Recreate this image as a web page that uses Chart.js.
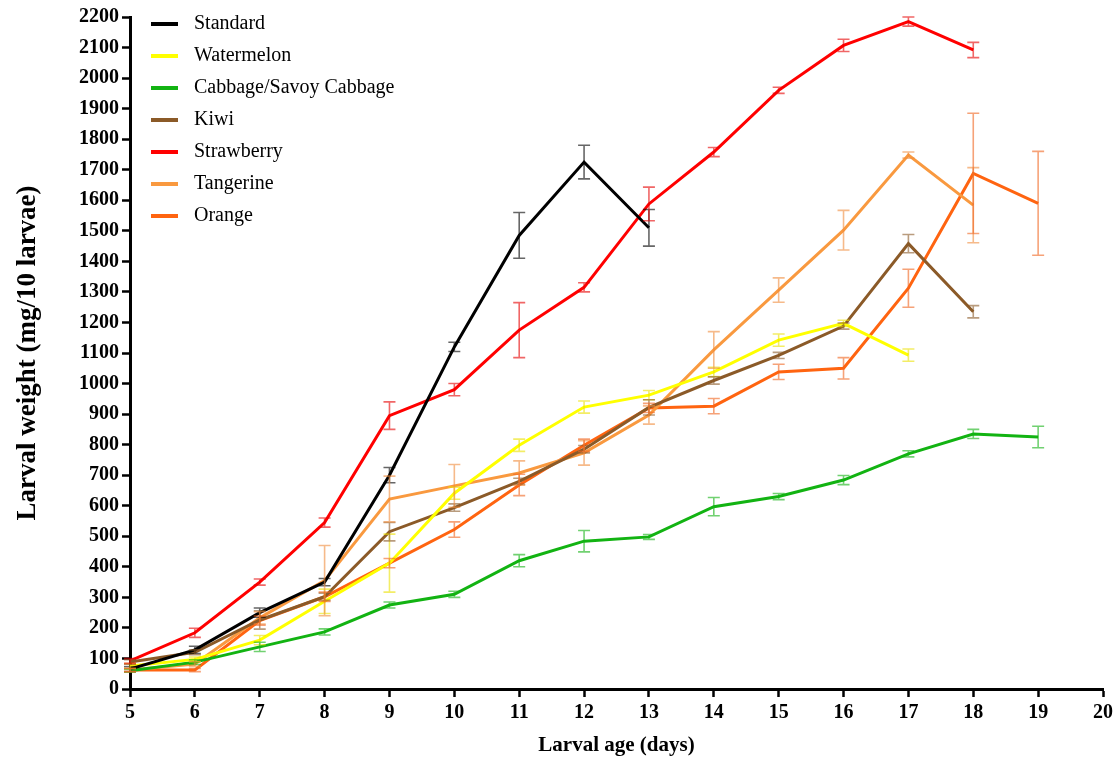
<!DOCTYPE html>
<html>
<head>
<meta charset="utf-8">
<script src="https://cdn.jsdelivr.net/npm/chart.js@4.4.0/dist/chart.umd.min.js"></script>
<style>
  html, body { margin: 0; padding: 0; background: #fff; }
</style>
</head>
<body>
<canvas id="larvae-chart" width="1120" height="760"></canvas>
<script>
// larval age in days (x) and tick labels
const days = [5, 6, 7, 8, 9, 10, 11, 12, 13, 14, 15, 16, 17, 18, 19];
const xTicks = [5, 6, 7, 8, 9, 10, 11, 12, 13, 14, 15, 16, 17, 18, 19, 20];
const yTicks = [0, 100, 200, 300, 400, 500, 600, 700, 800, 900, 1000, 1100,
  1200, 1300, 1400, 1500, 1600, 1700, 1800, 1900, 2000, 2100, 2200];

// mean weight (mg/10 larvae) and error, one value per day starting at day 5
const standard = [65, 128, 250, 350, 700, 1120, 1485, 1725, 1510];
const standardErr = [8, 12, 15, 12, 25, 15, 75, 55, 60];
const watermelon = [75, 97, 160, 287, 412, 641, 798, 923, 962, 1038, 1142, 1197, 1093];
const watermelonErr = [8, 8, 15, 40, 95, 20, 20, 20, 15, 15, 20, 10, 20];
const cabbage = [60, 88, 138, 187, 275, 310, 420, 484, 498, 597, 630, 684, 770, 835, 825];
const cabbageErr = [5, 8, 15, 10, 10, 10, 20, 35, 8, 30, 10, 15, 10, 15, 35];
const kiwi = [88, 120, 226, 302, 515, 594, 680, 785, 922, 1010, 1092, 1188, 1458, 1235];
const kiwiErr = [8, 8, 30, 12, 30, 12, 10, 12, 25, 12, 10, 10, 30, 20];
const strawberry = [92, 184, 350, 545, 895, 980, 1175, 1315, 1588, 1758, 1960, 2107, 2185, 2092];
const strawberryErr = [8, 15, 10, 15, 45, 20, 90, 15, 55, 15, 10, 20, 15, 25];
const tangerine = [62, 82, 233, 355, 622, 665, 707, 773, 897, 1110, 1306, 1502, 1748, 1584];
const tangerineErr = [5, 8, 20, 115, 75, 70, 40, 40, 30, 60, 40, 65, 10, 123];
const orange = [62, 62, 224, 302, 412, 522, 668, 798, 920, 926, 1038, 1050, 1312, 1688, 1590];
const orangeErr = [5, 5, 15, 15, 15, 25, 35, 20, 15, 25, 25, 35, 62, 197, 170];

const pts = vals => vals.map((v, i) => ({x: days[i], y: v}));

function series(label, vals, errs, color, errColor) {
  return {
    label: label,
    data: pts(vals),
    errors: errs,
    errColor: errColor,
    borderColor: color,
    backgroundColor: color,
    borderWidth: 3,
    pointRadius: 0,
    tension: 0,
    fill: false
  };
}

// draws the error bars from each dataset's errors array
const errorBars = {
  id: "errorBars",
  afterDatasetsDraw(chart) {
    const ctx = chart.ctx;
    const xs = chart.scales.x, ys = chart.scales.y;
    chart.data.datasets.forEach(ds => {
      ctx.save();
      ctx.strokeStyle = ds.errColor;
      ctx.lineWidth = 1.6;
      ds.data.forEach((p, j) => {
        const e = ds.errors[j];
        const px = xs.getPixelForValue(p.x);
        const top = ys.getPixelForValue(p.y + e);
        const bot = ys.getPixelForValue(p.y - e);
        ctx.beginPath();
        ctx.moveTo(px, top); ctx.lineTo(px, bot);
        ctx.moveTo(px - 6, top); ctx.lineTo(px + 6, top);
        ctx.moveTo(px - 6, bot); ctx.lineTo(px + 6, bot);
        ctx.stroke();
      });
      ctx.restore();
    });
  }
};

// legend inside the plot, top-left
const insideLegend = {
  id: "insideLegend",
  afterDraw(chart) {
    const ctx = chart.ctx;
    const left = chart.chartArea.left;
    ctx.save();
    ctx.font = "20px 'Liberation Serif'";
    ctx.textBaseline = "middle";
    ctx.fillStyle = "#000";
    chart.data.datasets.forEach((ds, i) => {
      const y = 24 + i * 32;
      ctx.strokeStyle = ds.borderColor;
      ctx.lineWidth = 4;
      ctx.beginPath();
      ctx.moveTo(left + 21, y); ctx.lineTo(left + 48, y);
      ctx.stroke();
      ctx.fillText(ds.label, left + 64, y);
    });
    ctx.restore();
  }
};

const tickFont = {family: "'Liberation Serif'", size: 20, weight: "bold"};

const ctx = document.getElementById("larvae-chart").getContext("2d");

const larvaeChart = new Chart(ctx, {
  type: "line",
  data: {
    datasets: [
      series("Standard", standard, standardErr, "#000000", "rgba(0,0,0,0.6)"),
      series("Watermelon", watermelon, watermelonErr, "#ffff00", "rgba(235,225,0,0.6)"),
      series("Cabbage/Savoy Cabbage", cabbage, cabbageErr, "#12b312", "rgba(18,179,18,0.6)"),
      series("Kiwi", kiwi, kiwiErr, "#8b5a28", "rgba(139,90,40,0.6)"),
      series("Strawberry", strawberry, strawberryErr, "#ff0000", "rgba(230,0,0,0.6)"),
      series("Tangerine", tangerine, tangerineErr, "#f9993f", "rgba(240,140,60,0.6)"),
      series("Orange", orange, orangeErr, "#ff6410", "rgba(240,100,30,0.6)")
    ]
  },
  options: {
    responsive: false,
    animation: false,
    devicePixelRatio: 1,
    layout: {padding: {left: 0, right: 17, top: 17, bottom: 0}},
    plugins: {
      legend: {display: false},
      tooltip: {enabled: false}
    },
    scales: {
      x: {
        type: "linear",
        min: 5,
        max: 20,
        afterBuildTicks: s => { s.ticks = xTicks.map(v => ({value: v})); },
        afterFit: s => { s.height = 71; },
        grid: {drawOnChartArea: false, drawTicks: true, tickLength: 8, tickWidth: 2.5, tickColor: "#000"},
        border: {display: true, color: "#000", width: 3},
        ticks: {color: "#000", font: tickFont, padding: 4, maxRotation: 0, autoSkip: false,
          callback: v => String(v)},
        title: {
          display: true,
          text: "Larval age (days)",
          color: "#000",
          font: {family: "'Liberation Serif'", size: 21, weight: "bold"},
          padding: {top: 0, bottom: 2}
        }
      },
      y: {
        min: 0,
        max: 2200,
        afterBuildTicks: s => { s.ticks = yTicks.map(v => ({value: v})); },
        afterFit: s => { s.width = 130; },
        grid: {drawOnChartArea: false, drawTicks: true, tickLength: 8, tickWidth: 2.5, tickColor: "#000"},
        border: {display: true, color: "#000", width: 3},
        ticks: {color: "#000", font: tickFont, padding: 3, callback: v => String(v)},
        title: {
          display: true,
          text: "Larval weight (mg/10 larvae)",
          color: "#000",
          font: {family: "'Liberation Serif'", size: 27, weight: "bold"},
          padding: {top: 12, bottom: 0}
        }
      }
    }
  },
  plugins: [errorBars, insideLegend]
});
</script>
</body>
</html>
